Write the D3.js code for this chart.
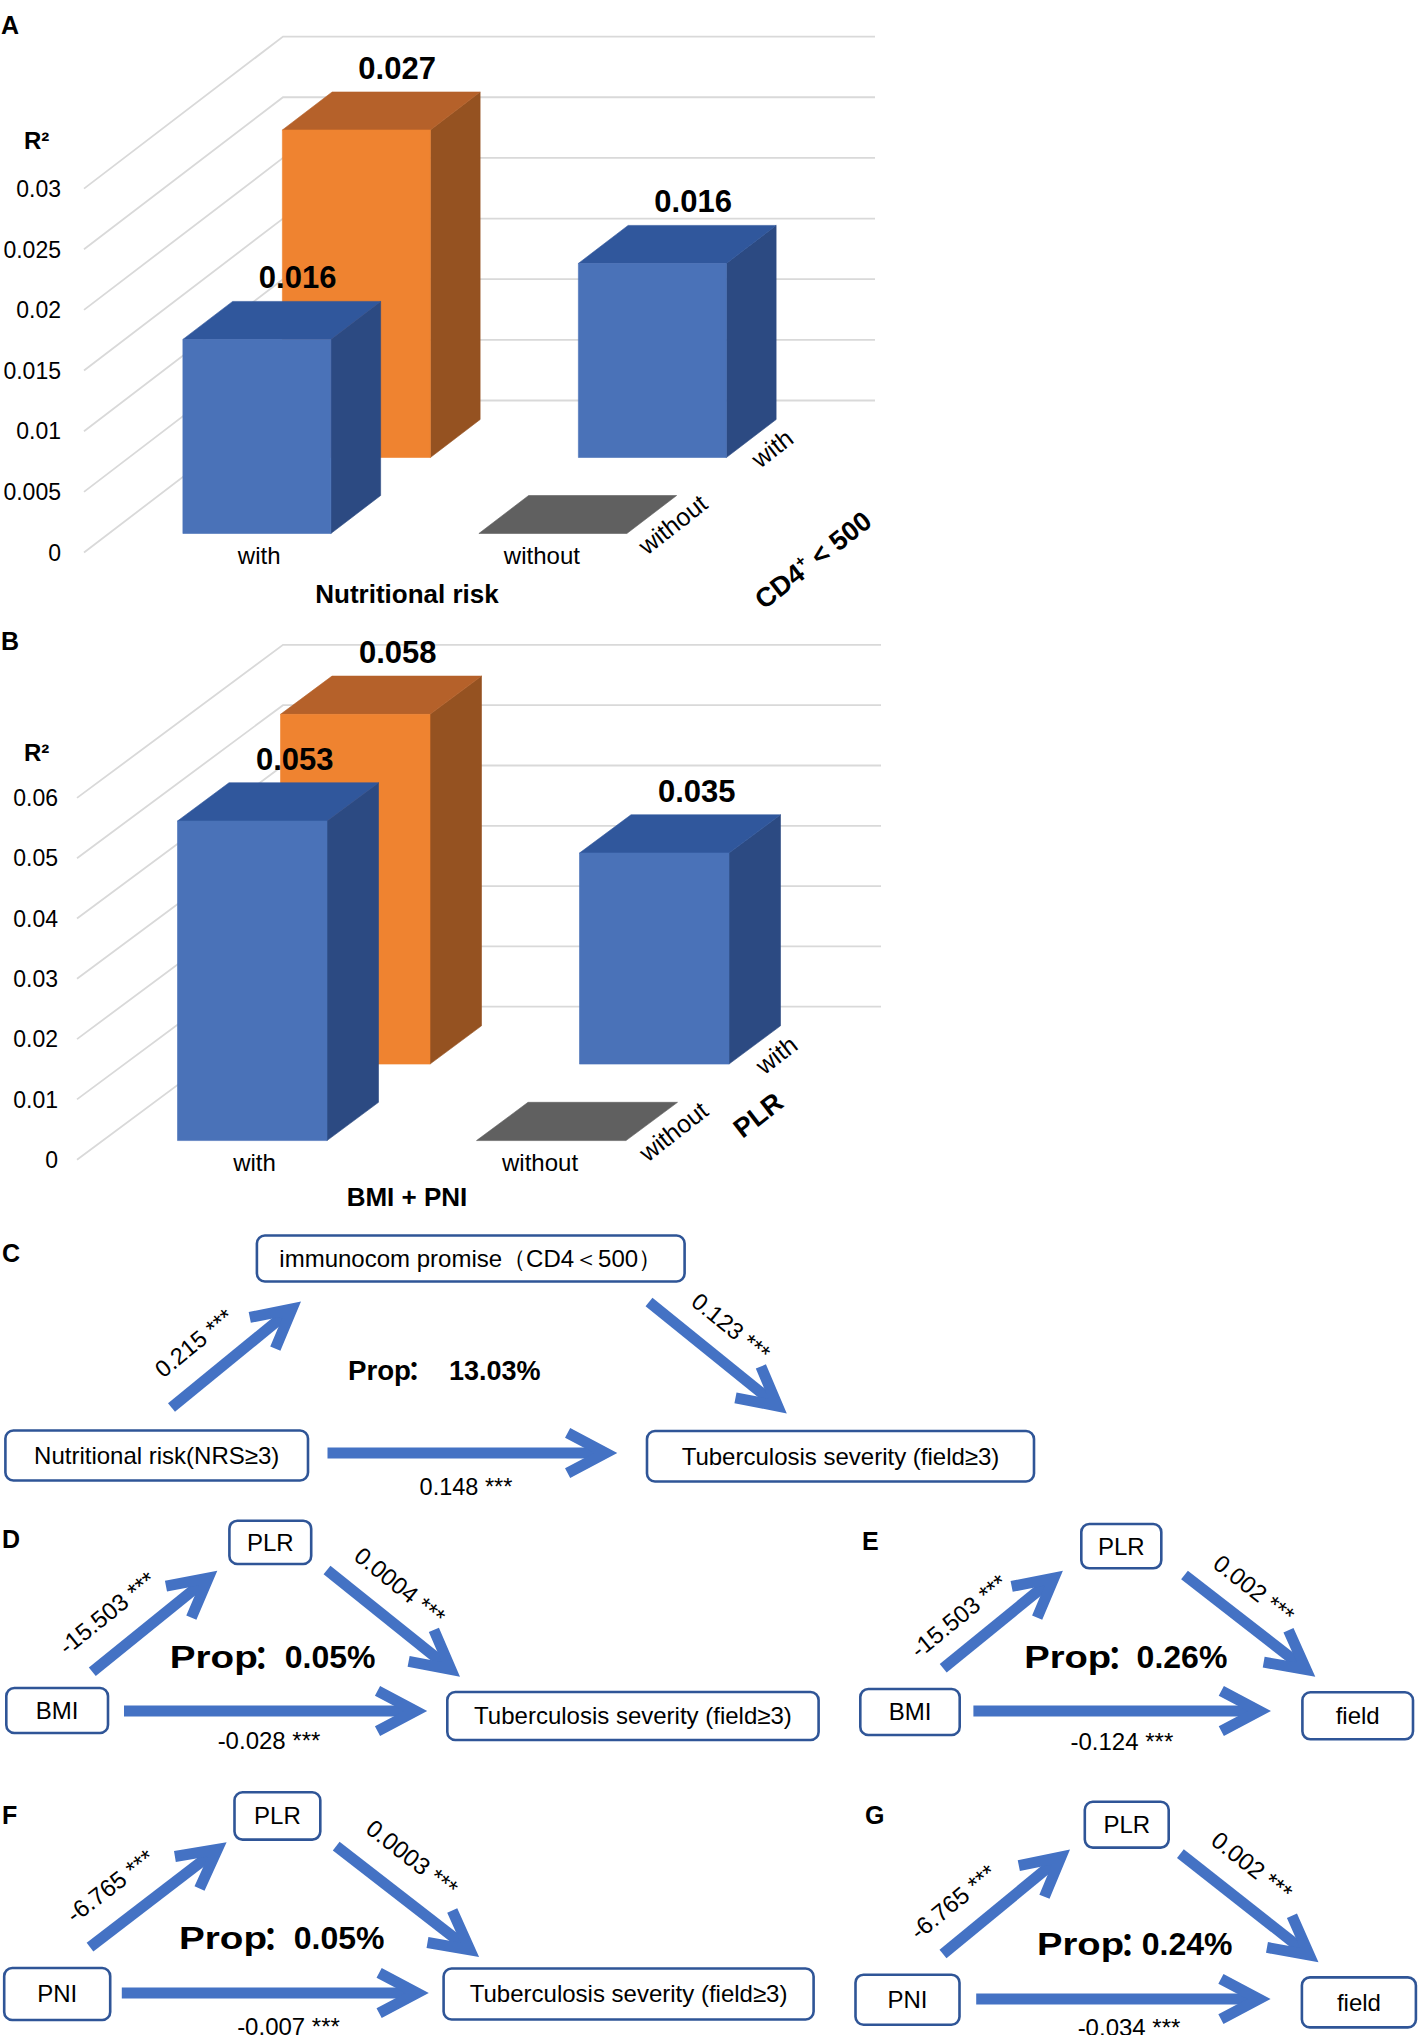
<!DOCTYPE html>
<html><head><meta charset="utf-8">
<script src="https://cdn.jsdelivr.net/npm/d3@7"></script>
<style>
body{margin:0;background:#fff}
svg{display:block}
text{font-family:"Liberation Sans",Arial,Helvetica,sans-serif;fill:#000}
</style>
</head><body>
<svg id="chart" width="1418" height="2035"></svg>
<script>
// ================= DATA =================
// Panel A : R² by Nutritional risk (x-axis) and CD4+ < 500 (depth axis)
const catsA = ["with", "without"];
const depthA = ["without", "with"];           // front row -> back row
const valsA_without = [0.016, 0];             // CD4+<500 = without (front row)
const valsA_with = [0.027, 0.016];            // CD4+<500 = with (back row)
const ticksA = [0, 0.005, 0.01, 0.015, 0.02, 0.025, 0.03];
const tickLabelsA = ["0", "0.005", "0.01", "0.015", "0.02", "0.025", "0.03"];

// Panel B : R² by BMI + PNI (x-axis) and PLR (depth axis)
const catsB = ["with", "without"];
const depthB = ["without", "with"];
const valsB_without = [0.053, 0];
const valsB_with = [0.058, 0.035];
const ticksB = [0, 0.01, 0.02, 0.03, 0.04, 0.05, 0.06];
const tickLabelsB = ["0", "0.01", "0.02", "0.03", "0.04", "0.05", "0.06"];

// Panels C-G : mediation models
const medPanels = ["C", "D", "E", "F", "G"];
const medX = ["Nutritional risk(NRS≥3)", "BMI", "BMI", "PNI", "PNI"];
const medM = ["immunocom promise（CD4＜500）", "PLR", "PLR", "PLR", "PLR"];
const medY = ["Tuberculosis severity (field≥3)", "Tuberculosis severity (field≥3)", "field",
              "Tuberculosis severity (field≥3)", "field"];
const medA = ["0.215", "-15.503", "-15.503", "-6.765", "-6.765"];
const medB = ["0.123", "0.0004", "0.002", "0.0003", "0.002"];
const medC = ["0.148", "-0.028", "-0.124", "-0.007", "-0.034"];
const medSig = ["***", "***", "***", "***", "***"];
const medProp = ["13.03%", "0.05%", "0.26%", "0.05%", "0.24%"];

// ================= STYLE / LAYOUT =================
const COL = {
  blue:   {front: "#4a72b8", top: "#30579c", side: "#2c4a82"},
  orange: {front: "#ef8330", top: "#b5612a", side: "#955221"},
  gray:   {front: "#606060", top: "#606060", side: "#606060"},
  grid: "#d9d9d9", arrow: "#4472c4", box: "#2f5597"
};
const rowColorsA = [["blue", "gray"], ["orange", "blue"]];
const rowColorsB = [["blue", "gray"], ["orange", "blue"]];

const cfgA = {ox: 84, y0: 552.5, dx: 199, dy: -152, W: 592, h: 363.9, max: 0.03, tickX: 61,
  letter: ["A", 1, 34], r2: [24, 149], xTitle: ["Nutritional risk", 407, 603],
  zTitle: [813, 560], zTitleText: "CD4", zTitleSup: "+", zTitleRest: " < 500"};
const cfgB = {ox: 77, y0: 1159.7, dx: 206, dy: -153, W: 598, h: 361.8, max: 0.06, tickX: 58,
  letter: ["B", 1, 650], r2: [24, 761], xTitle: ["BMI + PNI", 407, 1206],
  zTitle: [758, 1115], zTitleText: "PLR", zTitleSup: "", zTitleRest: ""};

const medLayout = [
  {letter: [2, 1262], m: [256.9, 1235.5, 427.7, 46], x: [5.4, 1430.5, 302.6, 50], y: [647, 1431, 387, 50.5], fs: 24,
   aA: [171.5, 1407.5, 301, 1301.6], bA: [649, 1302, 786.8, 1413.4], cA: [327.5, 1453, 617.3, 1453],
   aL: [194, 1343], bL: [731, 1327], cL: [466, 1495], labFs: 23.5,
   prop: [348, 1380, 449], propFs: 27, propLen: 63},
  {letter: [2, 1548], m: [229.4, 1520.7, 81.8, 43.3], x: [6.3, 1688, 101.7, 45], y: [447.3, 1692, 371.3, 48], fs: 24,
   aA: [92.3, 1671.7, 217.3, 1570.7], bA: [327, 1570, 460, 1676.7], cA: [124, 1711, 427.2, 1711],
   aL: [107, 1613], bL: [400, 1586], cL: [269, 1749], labFs: 24,
   prop: [169.8, 1668, 284.8], propFs: 32, propLen: 88},
  {letter: [862, 1550], m: [1081.3, 1524, 80, 44.3], x: [860.3, 1689, 99.4, 46], y: [1302.4, 1692.3, 110.6, 47], fs: 24,
   aA: [943.2, 1668.3, 1062.9, 1570.7], bA: [1184.5, 1575, 1315.3, 1676.7], cA: [973.4, 1711, 1271, 1711],
   aL: [958.7, 1616], bL: [1254, 1589], cL: [1121.9, 1750], labFs: 24,
   prop: [1024.2, 1668, 1136.6], propFs: 32, propLen: 87},
  {letter: [2, 1824], m: [234.5, 1792.3, 85.8, 47.3], x: [4.2, 1968, 106, 52], y: [443.6, 1968.5, 370, 51], fs: 24,
   aA: [90, 1947.2, 226.6, 1842.2], bA: [336.2, 1846.1, 479.1, 1957], cA: [121.8, 1993, 428.8, 1993],
   aL: [110.2, 1886], bL: [412, 1858], cL: [288.5, 2035], labFs: 24,
   prop: [179, 1948.5, 293.8], propFs: 32, propLen: 88},
  {letter: [865, 1824], m: [1084.8, 1801.8, 83.9, 45.8], x: [855.5, 1974.7, 104, 50], y: [1301.9, 1977.4, 114, 50], fs: 24,
   aA: [943, 1954, 1070, 1849.6], bA: [1180.4, 1853.6, 1318.5, 1962.3], cA: [976.2, 1999, 1270.6, 1999],
   aL: [953, 1902], bL: [1252, 1866], cL: [1129, 2036], labFs: 24,
   prop: [1037, 1955, 1141.8], propFs: 32, propLen: 87}
];

// ================= DRAW =================
const svg = d3.select("#chart");
const fmt = d3.format(".3f");

function draw3D(cfg, cats, depthCats, rows, rowColors, tickVals, tickLabels) {
  const g = svg.append("g");
  const yS = d3.scaleLinear().domain([0, cfg.max]).range([0, cfg.h]);
  const xS = d3.scaleBand().domain(cats).range([0, cfg.W]);
  const zS = d3.scaleBand().domain(depthCats).range([0, 1]);
  const P = (x, z, v) => [cfg.ox + x + z * cfg.dx, cfg.y0 - yS(v) + z * cfg.dy];
  const line = d3.line();

  // gridlines (left wall diagonals + back wall)
  tickVals.forEach(v => {
    g.append("path").attr("d", line([P(0, 0, v), P(0, 1, v), P(cfg.W, 1, v)]))
      .attr("fill", "none").attr("stroke", COL.grid).attr("stroke-width", 1.8);
  });
  // tick labels
  tickVals.forEach((v, i) => {
    g.append("text").attr("x", cfg.tickX).attr("y", P(0, 0, v)[1]).attr("dy", "0.36em")
      .attr("text-anchor", "end").attr("font-size", 23).text(tickLabels[i]);
  });

  // bars: back rows first
  const labels = [];
  for (let j = depthCats.length - 1; j >= 0; j--) {
    cats.forEach((c, i) => {
      const v = rows[j][i];
      const col = COL[rowColors[j][i]];
      const bw = xS.bandwidth(), zb = zS.bandwidth();
      const x0 = xS(c) + bw * 0.25, x1 = x0 + bw * 0.5;
      const z0 = zS(depthCats[j]) + zb * 0.25, z1 = z0 + zb * 0.5;
      const poly = (pts, fill) => g.append("path").attr("d", line(pts) + "Z").attr("fill", fill)
        .attr("stroke", fill).attr("stroke-width", 0.6);
      if (v > 0) {
        poly([P(x1, z0, 0), P(x1, z1, 0), P(x1, z1, v), P(x1, z0, v)], col.side);
        poly([P(x0, z0, v), P(x1, z0, v), P(x1, z1, v), P(x0, z1, v)], col.top);
        poly([P(x0, z0, 0), P(x1, z0, 0), P(x1, z0, v), P(x0, z0, v)], col.front);
        const lp = P((x0 + x1) / 2, z1, v);
        labels.push([lp[0] - 9, lp[1] - 13, fmt(v)]);
      } else {
        poly([P(x0, z0, 0), P(x1, z0, 0), P(x1, z1, 0), P(x0, z1, 0)], col.top);
      }
    });
  }
  labels.forEach(l => g.append("text").attr("x", l[0]).attr("y", l[1]).attr("text-anchor", "middle")
    .attr("font-size", 31).attr("font-weight", "bold").text(l[2]));

  // category labels
  cats.forEach(c => {
    const xc = cfg.ox + 0.125 * cfg.dx + (xS(c) + xS.bandwidth() / 2) * 0.955 + 9;
    g.append("text").attr("x", xc).attr("y", cfg.y0 + 11).attr("text-anchor", "middle")
      .attr("font-size", 24).text(c);
  });
  // depth labels
  depthCats.forEach(d => {
    const p = P(cfg.W, zS(d) + zS.bandwidth() / 2, 0);
    g.append("text").attr("transform", `translate(${p[0] - 53},${p[1] + 10}) rotate(-38)`)
      .attr("text-anchor", "middle").attr("dy", "0.35em").attr("font-size", 25).text(d);
  });
  // titles
  g.append("text").attr("x", cfg.xTitle[1]).attr("y", cfg.xTitle[2]).attr("text-anchor", "middle")
    .attr("font-size", 26).attr("font-weight", "bold").text(cfg.xTitle[0]);
  const zt = g.append("text").attr("transform", `translate(${cfg.zTitle[0]},${cfg.zTitle[1]}) rotate(-38)`)
    .attr("text-anchor", "middle").attr("dy", "0.35em").attr("font-size", 27).attr("font-weight", "bold");
  zt.append("tspan").text(cfg.zTitleText);
  if (cfg.zTitleSup) {
    zt.append("tspan").attr("dy", -11).attr("font-size", 16).text(cfg.zTitleSup);
    zt.append("tspan").attr("dy", 11).text(cfg.zTitleRest);
  }
  g.append("text").attr("x", cfg.r2[0]).attr("y", cfg.r2[1]).attr("font-size", 24)
    .attr("font-weight", "bold").text("R²");
  g.append("text").attr("x", cfg.letter[1]).attr("y", cfg.letter[2]).attr("font-size", 25)
    .attr("font-weight", "bold").text(cfg.letter[0]);
}

draw3D(cfgA, catsA, depthA, [valsA_without, valsA_with], rowColorsA, ticksA, tickLabelsA);
draw3D(cfgB, catsB, depthB, [valsB_without, valsB_with], rowColorsB, ticksB, tickLabelsB);

// -------- mediation diagrams --------
function arrow(g, a) {
  const [x1, y1, x2, y2] = a;
  const w = 11, ha = 28 * Math.PI / 180, L = 43;
  const ang = Math.atan2(y2 - y1, x2 - x1);
  const back = (w / 2) / Math.sin(ha);
  const tx = x2 - back * Math.cos(ang), ty = y2 - back * Math.sin(ang);
  const line = d3.line();
  g.append("path").attr("d", line([[x1, y1], [tx - 4 * Math.cos(ang), ty - 4 * Math.sin(ang)]]))
    .attr("stroke", COL.arrow).attr("stroke-width", w).attr("fill", "none");
  const b1 = [tx - L * Math.cos(ang - ha), ty - L * Math.sin(ang - ha)];
  const b2 = [tx - L * Math.cos(ang + ha), ty - L * Math.sin(ang + ha)];
  g.append("path").attr("d", line([b1, [tx, ty], b2])).attr("stroke", COL.arrow)
    .attr("stroke-width", w).attr("fill", "none").attr("stroke-linejoin", "miter")
    .attr("stroke-miterlimit", 10);
}
function box(g, r, label, fs) {
  g.append("rect").attr("x", r[0]).attr("y", r[1]).attr("width", r[2]).attr("height", r[3])
    .attr("rx", 8).attr("fill", "#fff").attr("stroke", COL.box).attr("stroke-width", 2.6);
  g.append("text").attr("x", r[0] + r[2] / 2).attr("y", r[1] + r[3] / 2).attr("dy", "0.35em")
    .attr("text-anchor", "middle").attr("font-size", fs).text(label);
}
function rotLabel(g, p, arr, txt, fs) {
  const ang = Math.atan2(arr[3] - arr[1], arr[2] - arr[0]) * 180 / Math.PI;
  g.append("text").attr("transform", `translate(${p[0]},${p[1]}) rotate(${ang})`)
    .attr("text-anchor", "middle").attr("dy", "0.35em").attr("font-size", fs).text(txt);
}

medPanels.forEach((p, i) => {
  const L = medLayout[i];
  const g = svg.append("g");
  g.append("text").attr("x", L.letter[0]).attr("y", L.letter[1]).attr("font-size", 25)
    .attr("font-weight", "bold").text(p);
  arrow(g, L.aA); arrow(g, L.bA); arrow(g, L.cA);
  box(g, L.m, medM[i], L.fs);
  box(g, L.x, medX[i], L.fs);
  box(g, L.y, medY[i], L.fs);
  rotLabel(g, L.aL, L.aA, `${medA[i]} ${medSig[i]}`, L.labFs);
  rotLabel(g, L.bL, L.bA, `${medB[i]} ${medSig[i]}`, L.labFs);
  g.append("text").attr("x", L.cL[0]).attr("y", L.cL[1]).attr("text-anchor", "middle")
    .attr("font-size", L.labFs).text(`${medC[i]} ${medSig[i]}`);
  // Prop
  g.append("text").attr("x", L.prop[0]).attr("y", L.prop[1]).attr("font-size", L.propFs)
    .attr("font-weight", "bold").attr("textLength", L.propLen).attr("lengthAdjust", "spacingAndGlyphs")
    .text("Prop");
  g.append("text").attr("x", L.prop[0] + L.propLen + 0.36 * L.propFs).attr("y", L.prop[1])
    .attr("text-anchor", "middle").attr("font-size", L.propFs).attr("font-weight", "bold")
    .style("font-family", '"Noto Sans CJK SC","Noto Sans CJK JP",sans-serif').text("：");
  g.append("text").attr("x", L.prop[2]).attr("y", L.prop[1]).attr("font-size", L.propFs)
    .attr("font-weight", "bold").text(medProp[i]);
});
</script>
</body></html>
